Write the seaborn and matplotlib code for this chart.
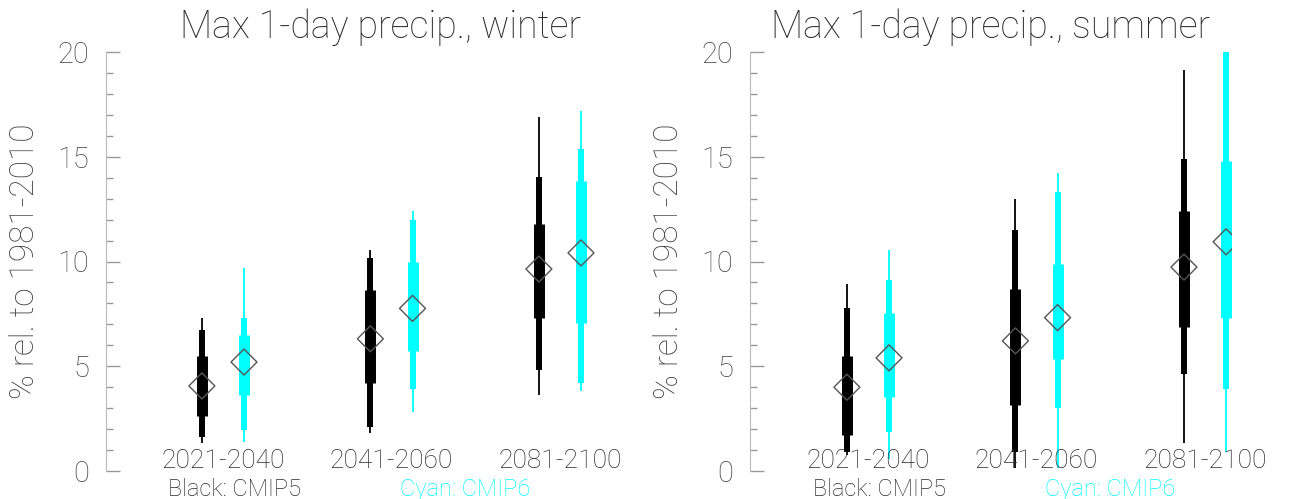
import matplotlib
matplotlib.use('Agg')
import matplotlib.pyplot as plt
from matplotlib.ticker import MultipleLocator
import pandas as pd
import seaborn as sns

periods = ['2021-2040', '2041-2060', '2081-2100']
seasons = ['winter', 'summer']
models = ['CMIP5', 'CMIP6']

# winter, CMIP5 (black)
w5_lo = [1.35, 1.83, 3.61]
w5_q10 = [1.64, 2.12, 4.82]
w5_q25 = [2.63, 4.19, 7.28]
w5_mid = [4.06, 6.31, 9.64]
w5_q75 = [5.49, 8.63, 11.81]
w5_q90 = [6.73, 10.17, 14.02]
w5_hi = [7.30, 10.55, 16.92]

# winter, CMIP6 (cyan)
w6_lo = [1.39, 2.84, 3.80]
w6_q10 = [1.97, 3.90, 4.19]
w6_q25 = [3.61, 5.73, 7.08]
w6_mid = [5.20, 7.76, 10.41]
w6_q75 = [6.50, 9.98, 13.83]
w6_q90 = [7.28, 12.00, 15.37]
w6_hi = [9.69, 12.39, 17.20]

# summer, CMIP5 (black)
s5_lo = [0.77, 0.14, 1.35]
s5_q10 = [0.91, 0.91, 4.62]
s5_q25 = [1.73, 3.13, 6.89]
s5_mid = [4.00, 6.21, 9.73]
s5_q75 = [5.49, 8.67, 12.39]
s5_q90 = [7.76, 11.52, 14.89]
s5_hi = [8.91, 12.96, 19.13]

# summer, CMIP6 (cyan)
s6_lo = [0.57, 0.14, 0.91]
s6_q10 = [1.88, 3.03, 3.90]
s6_q25 = [3.52, 5.35, 7.32]
s6_mid = [5.40, 7.32, 10.94]
s6_q75 = [7.56, 9.88, 14.80]
s6_q90 = [9.11, 13.30, 20.00]
s6_hi = [10.55, 14.22, 20.00]

series = {
    ('winter', 'CMIP5'): (w5_lo, w5_q10, w5_q25, w5_mid, w5_q75, w5_q90, w5_hi),
    ('winter', 'CMIP6'): (w6_lo, w6_q10, w6_q25, w6_mid, w6_q75, w6_q90, w6_hi),
    ('summer', 'CMIP5'): (s5_lo, s5_q10, s5_q25, s5_mid, s5_q75, s5_q90, s5_hi),
    ('summer', 'CMIP6'): (s6_lo, s6_q10, s6_q25, s6_mid, s6_q75, s6_q90, s6_hi),
}

rows = []
for (season, model), vals in series.items():
    for i, p in enumerate(periods):
        rows.append([season, model, p, i] + [v[i] for v in vals])
df = pd.DataFrame(rows, columns=['season', 'model', 'period', 'idx',
                                 'lo', 'q10', 'q25', 'mid', 'q75', 'q90', 'hi'])

colors = {'CMIP5': 'black', 'CMIP6': '#00ffff'}
offset = {'CMIP5': -0.125, 'CMIP6': 0.125}
df['x'] = df['idx'] + df['model'].map(offset)

sns.set_style('ticks')
plt.rcParams['font.family'] = ['Roboto', 'DejaVu Sans']
plt.rcParams['font.weight'] = 'light'
txt = '#2a2a2a'

fig = plt.figure(figsize=(12.95, 4.99), dpi=100)
W, H = 1295, 499
boxes = {'winter': (106, 656, -0.694, 2.570), 'summer': (750, 1232, -0.700, 2.160)}

for season in seasons:
    x0, x1, xl, xr = boxes[season]
    ax = fig.add_axes([x0 / W, (H - 471) / H, (x1 - x0) / W, 419 / H])
    sub = df[df.season == season]
    for model in models:
        m = sub[sub.model == model]
        c = colors[model]
        ax.vlines(m.x, m.lo, m.hi, color=c, lw=1.3, capstyle='butt', clip_on=False)
        ax.vlines(m.x, m.q10, m.q90, color=c, lw=4.3, capstyle='butt')
        ax.vlines(m.x, m.q25, m.q75, color=c, lw=7.9, capstyle='butt')
    sns.scatterplot(data=sub, x='x', y='mid', marker='D', s=175, color='#555555',
                    linewidth=1.0, ax=ax, legend=False, zorder=5)
    ax.collections[-1].set_facecolor('none')
    ax.collections[-1].set_edgecolor('#555555')

    ax.set_xlim(xl, xr)
    ax.set_ylim(0, 20)
    ax.set_xticks([])
    ax.set_xlabel('')
    ax.yaxis.set_major_locator(MultipleLocator(5))
    ax.yaxis.set_minor_locator(MultipleLocator(1))
    ax.tick_params(axis='y', which='major', direction='in', length=10, width=1,
                   color='#999999', labelsize=21, labelcolor='#444444', pad=12)
    ax.tick_params(axis='y', which='minor', direction='in', length=5, width=1,
                   color='#999999')
    sns.despine(ax=ax, bottom=True)
    ax.spines['left'].set_color('#bbbbbb')
    ax.set_ylabel('% rel. to 1981-2010', fontsize=24, color='#444444',
                  fontweight='light', labelpad=12)
    ax.set_title('Max 1-day precip., ' + season, fontsize=27, color=txt,
                 fontweight='light', pad=10)

    for i, p in enumerate(periods):
        ax.text(i, 0.48, p, ha='center', va='center', fontsize=19, color=txt,
                fontweight='light', clip_on=False)
    ax.text(0.07, -0.9, 'Black: CMIP5', ha='center', va='center', fontsize=17,
            color=txt, fontweight='light', clip_on=False)
    ax.text(1.44, -0.9, 'Cyan: CMIP6', ha='center', va='center', fontsize=17,
            color='#00ffff', fontweight='light', clip_on=False)

fig.savefig('out.png', dpi=100)
